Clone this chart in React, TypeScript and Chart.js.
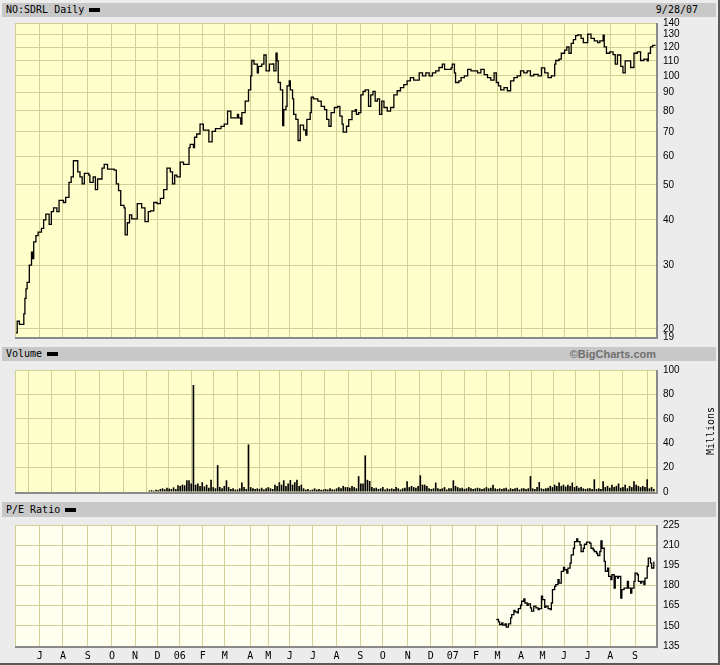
import React, { useEffect, useRef } from 'react';
import { Chart, registerables } from 'chart.js';

Chart.register(...registerables);

// ---- x axis (trading-day index) ----
const dayMax = 582;
const monthTickDays = [22.5, 43.5, 66, 88, 109, 129.5, 149.5, 170.5, 190.5, 213.5, 230, 249.5, 270.5, 292, 313.5, 334, 356.5, 377.5, 397.5, 418.5, 438, 459.5, 479, 498.5, 520, 540.5, 563];
const monthTickLabels = ['J', 'A', 'S', 'O', 'N', 'D', '06', 'F', 'M', 'A', 'M', 'J', 'J', 'A', 'S', 'O', 'N', 'D', '07', 'F', 'M', 'A', 'M', 'J', 'J', 'A', 'S'];

// ---- price (NO:SDRL daily) ----
const priceDays = [0, 2, 4, 8, 9, 10, 11, 13, 15, 16, 17, 19, 21, 24, 26, 28, 31, 33, 35, 38, 40, 44, 46, 49, 51, 53, 56, 57, 59, 61, 63, 67, 68, 71, 73, 75, 77, 79, 81, 84, 88, 90, 92, 94, 96, 99, 100, 102, 104, 106, 108, 111, 113, 115, 118, 120, 121, 123, 126, 129, 132, 135, 138, 141, 143, 145, 147, 150, 153, 156, 158, 159, 162, 163, 165, 168, 171, 175, 176, 179, 182, 187, 190, 193, 196, 199, 202, 203, 205, 206, 209, 212, 214, 215, 217, 220, 221, 224, 226, 228, 231, 234, 235, 237, 238, 239, 241, 243, 244, 246, 247, 249, 250, 252, 253, 255, 257, 259, 262, 264, 265, 268, 269, 271, 275, 278, 281, 283, 285, 287, 290, 293, 295, 297, 298, 301, 303, 306, 309, 310, 312, 314, 316, 318, 321, 323, 325, 327, 329, 331, 333, 335, 338, 341, 344, 347, 350, 353, 356, 359, 362, 367, 370, 373, 376, 379, 382, 385, 388, 390, 393, 396, 397, 399, 400, 403, 405, 408, 411, 414, 417, 420, 423, 426, 429, 432, 435, 437, 439, 441, 444, 447, 450, 453, 456, 459, 462, 465, 468, 471, 475, 478, 481, 484, 487, 490, 491, 494, 496, 499, 501, 503, 505, 507, 509, 511, 514, 516, 520, 523, 526, 529, 531, 534, 535, 537, 540, 543, 545, 547, 550, 552, 554, 556, 559, 562, 565, 568, 571, 574, 575, 577, 579, 581];
const priceValues = [19.5, 21, 20.6, 22, 24.3, 25.8, 26.9, 30, 32.6, 31.3, 34.8, 36.2, 37, 37.9, 40, 41.5, 38.9, 42.2, 43.2, 42.2, 45.3, 44.7, 46.2, 50.8, 52.6, 58.3, 58.3, 54.3, 52.6, 50.3, 53.8, 53.2, 50.8, 52.6, 48.5, 51.9, 51.9, 55.6, 57, 55.3, 55.3, 54.9, 50.3, 48.2, 43.9, 43.2, 36.4, 39.3, 41.3, 40.3, 40.3, 44.4, 44.4, 43.2, 39.6, 39.6, 42.2, 42.4, 44.7, 44.4, 45.9, 48.5, 55.6, 54.3, 50.3, 53.2, 52.6, 57.8, 57, 57, 63.4, 64.7, 63.4, 67.7, 69.1, 73.6, 70.8, 70.8, 65.7, 70.3, 71.5, 72.5, 73.6, 79.9, 76.6, 76.6, 78.3, 76.6, 73.6, 79.2, 85.2, 91.5, 100, 110.3, 107.8, 102, 106.3, 107.8, 114.2, 103.2, 107.8, 108, 103.2, 115.5, 110, 95.9, 91.5, 72.9, 80.7, 82.4, 93.8, 96.9, 91.5, 86.4, 78.3, 75.8, 66.3, 73.1, 70.9, 68.6, 75.8, 79.2, 87.3, 86.4, 85.2, 82.4, 80.7, 75.8, 72.6, 79.2, 81.8, 82.4, 77.4, 73.6, 69.9, 72.6, 75.7, 79.9, 80.7, 78.3, 79.2, 88.6, 90.6, 91.5, 82.4, 88.6, 90.6, 85.2, 86.4, 78.3, 85.2, 81.8, 79.9, 81.8, 88.6, 91, 92.8, 94.6, 96.9, 98.9, 97.4, 102, 100, 102, 100, 102, 103.2, 105.5, 107.8, 104.3, 104.3, 105.3, 107.8, 102, 95.9, 96.9, 98.9, 100, 104.3, 103.2, 103.2, 102, 104.3, 100.8, 98.9, 97.4, 102, 95.9, 93.8, 91.5, 92.8, 91, 96.9, 98.9, 100, 103.2, 102, 103.2, 100, 101, 100, 105.3, 102, 98.9, 100, 107.8, 110.3, 111.3, 115.5, 117.8, 120.2, 115.5, 123, 126, 129.2, 129.8, 127, 123.5, 130.5, 127, 125, 123.5, 125, 129.5, 120.2, 115.5, 116.5, 114.5, 107.8, 114.2, 106.3, 102, 110, 110, 105.5, 115.5, 116.5, 110.3, 111.3, 110, 115.5, 120.2, 121.5, 121];
const priceTicks = [140, 130, 120, 110, 100, 90, 80, 70, 60, 50, 40, 30, 20, 19];

// ---- volume (millions), one bar per 2 trading days from volumeStartDay ----
const volumeStartDay = 122;
const volumeStep = 2;
const volumeValues = [
  1.2, 1.5, 1.0, 1.8, 1.5, 2.5, 3, 2.2, 3.5, 2.8,
  2.5, 3.8, 2.4, 5.5, 5, 6, 5.5, 9.6, 9.6, 7,
  87.7, 6, 7, 5, 8, 4.5, 6, 3.5, 10, 4,
  3, 22, 4, 3, 5, 9.6, 4, 2.5, 3, 2,
  2, 3, 7.7, 4, 2.5, 39, 4, 3, 2.5, 3,
  2.5, 3.5, 2, 3, 4, 3, 2.5, 6, 5, 8,
  6, 9.6, 5, 7, 9.8, 6, 8, 10, 5, 6,
  3, 2, 2.5, 1.5, 2, 3, 2, 2.5, 1.8, 2,
  2.5, 2, 3, 2.2, 2, 3, 4, 3, 5, 4,
  4, 3.5, 5, 4, 3, 13, 7, 7, 30, 10,
  9, 4, 3, 3.5, 2.5, 3, 4, 2, 3, 2.5,
  3, 2.5, 4, 3, 2, 3, 3.5, 8.8, 4, 5,
  4, 3.5, 5, 13.7, 6, 6, 5, 3, 2.5, 3,
  7.7, 3, 2.5, 3, 4, 2, 3, 3, 9.6, 5,
  4, 3, 3.5, 2.5, 3, 4, 3, 2.5, 3, 3.5,
  3, 2.5, 3, 4, 3, 3.5, 6, 3, 2.5, 3,
  2.5, 3, 3.5, 2, 3, 2.5, 3, 3.5, 2, 3,
  3, 2.5, 3, 13, 3, 2.5, 4, 8.2, 3, 2.5,
  3, 3.5, 5, 4, 6, 5, 7.7, 5, 6, 4.5,
  6, 5, 7.7, 4, 5, 3.5, 4, 3, 2.5, 3,
  3, 2.5, 10.4, 2.5, 3, 2.5, 8.8, 4, 5, 3.5,
  6, 4, 5, 7, 3.5, 4, 6, 3, 5, 4,
  8.8, 6, 5, 4, 5, 4, 10.4, 3, 4, 2.5,
];
const volumeTicks = [0, 20, 40, 60, 80, 100];

// ---- P/E ratio ----
const peDays = [437, 439, 440, 442, 443, 445, 446, 448, 450, 451, 453, 454, 456, 457, 459, 460, 462, 463, 465, 466, 468, 469, 471, 473, 475, 476, 478, 479, 481, 482, 484, 486, 487, 488, 490, 491, 493, 494, 496, 498, 499, 501, 502, 504, 505, 507, 508, 510, 511, 513, 514, 516, 517, 519, 520, 522, 523, 525, 526, 528, 529, 531, 532, 533, 535, 536, 538, 539, 541, 542, 544, 545, 547, 548, 550, 551, 553, 554, 556, 557, 559, 560, 562, 563, 565, 566, 568, 569, 571, 572, 574, 575, 577, 578, 580];
const peValues = [154.7, 153, 151, 152.2, 150.5, 151.5, 149, 151.5, 155.9, 158.4, 161.4, 160.4, 159.6, 162.8, 165.3, 168.3, 170, 167, 165.3, 166.3, 163.3, 160.9, 164.6, 163.3, 162.1, 162.8, 172, 169.5, 163.8, 164.6, 162.8, 162.1, 167, 176.9, 179.4, 180.6, 184.3, 181.8, 190.5, 193.4, 191.7, 189.2, 192.9, 196.6, 202.8, 207.7, 212.7, 214.6, 212.7, 210.2, 205.3, 207.7, 210.7, 212.2, 212.2, 211.4, 207.7, 206.5, 205.3, 204, 202.3, 205.3, 213.2, 207.7, 197.9, 190.5, 192.9, 186.8, 184.3, 188, 178.1, 186.8, 185.5, 186.8, 170.7, 176.9, 178.1, 178.1, 183, 178.1, 174.4, 178.1, 183, 189.2, 188, 183, 181.8, 183, 180.6, 185.5, 194.2, 200.3, 196.6, 193, 197.9];
const peTicks = [135, 150, 165, 180, 195, 210, 225];

// ---- styling ----
const PAGE_BG = '#ececec';
const BAR_BG = '#c8c8c8';
const PLOT_BG = '#ffffcc';
const PE_BG = '#fffff0';
const GRID = '#d3cf96';
const SHADOW = '#8a8a8a';
const AXIS_FONT = { family: '"Liberation Sans", Arial, sans-serif', size: 10 };
const MONO = '"DejaVu Sans Mono", monospace';

function panelPlugin(bg: string) {
  return {
    id: 'panelFrame',
    beforeDraw(chart: any) {
      const { ctx, chartArea: a } = chart;
      ctx.save();
      ctx.fillStyle = bg;
      ctx.fillRect(a.left, a.top, a.right - a.left, a.bottom - a.top);
      ctx.restore();
    },
    afterDraw(chart: any) {
      const { ctx, chartArea: a } = chart;
      ctx.save();
      ctx.strokeStyle = GRID;
      ctx.lineWidth = 1;
      ctx.beginPath();
      ctx.moveTo(a.left + 0.5, a.bottom);
      ctx.lineTo(a.left + 0.5, a.top + 0.5);
      ctx.lineTo(a.right, a.top + 0.5);
      ctx.stroke();
      ctx.strokeStyle = SHADOW;
      ctx.lineWidth = 2;
      ctx.beginPath();
      ctx.moveTo(a.left, a.bottom + 1);
      ctx.lineTo(a.right + 1, a.bottom + 1);
      ctx.lineTo(a.right + 1, a.top);
      ctx.stroke();
      ctx.restore();
    },
  };
}

function xScale(showLabels: boolean) {
  return {
    type: 'linear',
    min: 0,
    max: dayMax,
    offset: false,
    afterBuildTicks: (s: any) => {
      s.ticks = monthTickDays.map((v) => ({ value: v }));
    },
    afterFit: (s: any) => {
      s.height = showLabels ? 17 : 0;
    },
    grid: { color: GRID, lineWidth: 1, drawTicks: false },
    border: { display: false },
    ticks: {
      display: showLabels,
      autoSkip: false,
      maxRotation: 0,
      minRotation: 0,
      padding: 4,
      color: '#000',
      font: { family: MONO, size: 10 },
      callback: (_v: any, i: number) => monthTickLabels[i],
    },
  };
}

function yScale(type: string, min: number, max: number, ticks: number[]) {
  return {
    type,
    position: 'right',
    min,
    max,
    afterBuildTicks: (s: any) => {
      s.ticks = ticks.map((v) => ({ value: v }));
    },
    afterFit: (s: any) => {
      s.width = 64;
    },
    grid: { color: GRID, lineWidth: 1, drawTicks: false },
    border: { display: false },
    ticks: {
      autoSkip: false,
      padding: 7,
      color: '#000',
      font: AXIS_FONT,
      callback: (v: any) => String(v),
    },
  };
}

const basePlugins = { legend: { display: false }, tooltip: { enabled: false } };

function priceConfig(): any {
  return {
    type: 'line',
    data: {
      datasets: [
        {
          data: priceDays.map((d, i) => ({ x: d, y: priceValues[i] })),
          borderColor: '#000',
          borderWidth: 1.3,
          pointRadius: 0,
          tension: 0,
          stepped: true,
        },
      ],
    },
    options: {
      responsive: false,
      animation: false,
      layout: { padding: { top: 13, bottom: 13, left: 0, right: 0 } },
      plugins: basePlugins,
      scales: { x: xScale(false), y: yScale('logarithmic', 19, 140, priceTicks) },
    },
    plugins: [panelPlugin(PLOT_BG)],
  };
}

function volumeConfig(): any {
  return {
    type: 'bar',
    data: {
      datasets: [
        {
          data: volumeValues.map((v, i) => ({ x: volumeStartDay + i * volumeStep, y: v })),
          backgroundColor: '#000',
          borderWidth: 0,
          barPercentage: 0.75,
          categoryPercentage: 1,
        },
      ],
    },
    options: {
      responsive: false,
      animation: false,
      layout: { padding: { top: 13, bottom: 13, left: 0, right: 0 } },
      plugins: basePlugins,
      scales: { x: xScale(false), y: yScale('linear', 0, 100, volumeTicks) },
    },
    plugins: [panelPlugin(PLOT_BG)],
  };
}

function peConfig(): any {
  return {
    type: 'line',
    data: {
      datasets: [
        {
          data: peDays.map((d, i) => ({ x: d, y: peValues[i] })),
          borderColor: '#000',
          borderWidth: 1.3,
          pointRadius: 0,
          tension: 0,
          stepped: true,
        },
      ],
    },
    options: {
      responsive: false,
      animation: false,
      layout: { padding: { top: 13, bottom: 0, left: 0, right: 0 } },
      plugins: basePlugins,
      scales: { x: xScale(true), y: yScale('linear', 135, 225, peTicks) },
    },
    plugins: [panelPlugin(PE_BG)],
  };
}

function ChartCanvas(props: { build: () => any; left: number; top: number; width: number; height: number }) {
  const ref = useRef<HTMLCanvasElement>(null);
  useEffect(() => {
    const chart = new Chart(ref.current as HTMLCanvasElement, props.build());
    return () => chart.destroy();
  }, []);
  return (
    <canvas
      ref={ref}
      width={props.width}
      height={props.height}
      style={{ position: 'absolute', left: props.left, top: props.top, width: props.width, height: props.height }}
    />
  );
}

function HeaderBar(props: { top: number; height: number; label: string; right?: string; rightStyle?: any }) {
  return (
    <div
      style={{
        position: 'absolute',
        left: 2,
        top: props.top,
        width: 714,
        height: props.height,
        background: BAR_BG,
        fontFamily: MONO,
        fontSize: 10,
        lineHeight: props.height + 'px',
        color: '#000',
      }}
    >
      <span style={{ position: 'absolute', left: 4, top: 0 }}>
        {props.label}
        <span
          style={{
            display: 'inline-block',
            width: 11,
            height: 4,
            background: '#000',
            marginLeft: 5,
            verticalAlign: 'middle',
          }}
        />
      </span>
      {props.right ? (
        <span style={{ position: 'absolute', top: 0, ...(props.rightStyle || {}) }}>{props.right}</span>
      ) : null}
    </div>
  );
}

export default function App() {
  useEffect(() => {
    document.body.style.margin = '0';
  }, []);
  return (
    <div style={{ position: 'relative', width: 720, height: 665, background: PAGE_BG, overflow: 'hidden' }}>
      <HeaderBar top={3} height={14} label="NO:SDRL Daily" right="9/28/07" rightStyle={{ right: 18 }} />
      <HeaderBar
        top={347}
        height={14}
        label="Volume"
        right="©BigCharts.com"
        rightStyle={{
          right: 60,
          fontFamily: '"Liberation Sans", Arial, sans-serif',
          fontWeight: 'bold',
          fontSize: 11,
          color: '#707070',
        }}
      />
      <HeaderBar top={502} height={15} label="P/E Ratio" />

      <ChartCanvas build={priceConfig} left={15} top={10} width={705} height={340} />
      <ChartCanvas build={volumeConfig} left={15} top={357} width={705} height={148} />
      <ChartCanvas build={peConfig} left={15} top={512} width={705} height={151} />

      <div
        style={{
          position: 'absolute',
          left: 710,
          top: 431,
          transform: 'translate(-50%, -50%) rotate(-90deg)',
          fontFamily: MONO,
          fontSize: 10,
          color: '#000',
          whiteSpace: 'nowrap',
        }}
      >
        Millions
      </div>

      <div style={{ position: 'absolute', left: 718, top: 0, width: 2, height: 665, background: '#5a5a5a' }} />
      <div style={{ position: 'absolute', left: 0, top: 663, width: 720, height: 2, background: '#5a5a5a' }} />
    </div>
  );
}
